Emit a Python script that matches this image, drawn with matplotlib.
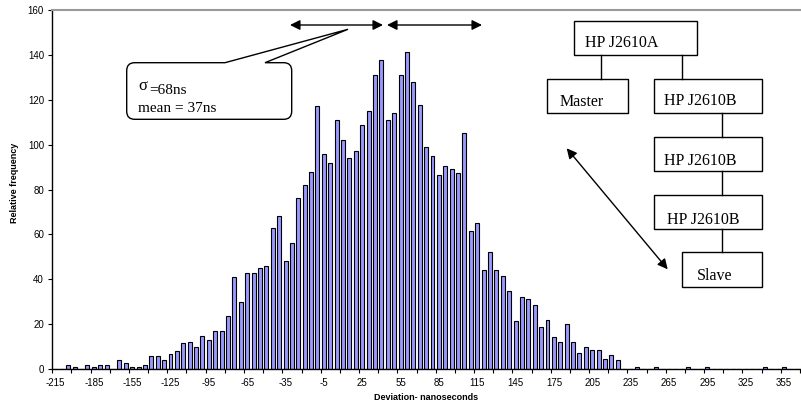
import numpy as np
import matplotlib.pyplot as plt
from matplotlib.patches import Rectangle, FancyArrowPatch, PathPatch
from matplotlib.path import Path
from matplotlib.lines import Line2D

# histogram data, bins of 5 ns
deviation = list(range(-215, 370, 5))
frequency = [0, 0, 2, 1, 0, 2, 1, 2, 2, 0,
             4, 3, 1, 1, 2, 6, 6, 4, 7, 8,
             11.5, 12, 10, 15, 13, 17, 17, 23.5, 41, 30,
             43, 43, 45, 46, 63, 68, 48, 56, 76, 82,
             88, 117, 96, 92, 111, 102, 94, 97, 108.5, 115,
             131, 137.5, 111, 114, 131, 141, 128, 117.5, 99, 95,
             86.5, 90.5, 89, 87.5, 105, 61.5, 65, 44, 52, 44,
             41.5, 35, 21.5, 32.3, 31.2, 28.6, 18.7, 22, 14.3, 12.2,
             20, 12, 7.4, 10, 8.5, 8.5, 4.5, 6.2, 4.3, 0,
             0, 1, 0, 0, 1, 0, 0, 0, 0, 1,
             0, 0, 1, 0, 0, 0, 0, 0, 0, 0,
             0, 1, 0, 0, 1, 0, 0]
tick_labels = list(range(-215, 356, 30))
yticks = list(range(0, 161, 20))

W, H = 801, 412
fig = plt.figure(figsize=(W / 100, H / 100), dpi=100)
ax = fig.add_axes([52.3 / W, 1 - 369.3 / H, 747.6 / W, 359.6 / H])

ax.bar(deviation, frequency, width=3.1, color='#9999ff', edgecolor='black', linewidth=0.8)
ax.set_xlim(-217.5, 367.5)
ax.set_ylim(0, 160)

ax.set_xticks(tick_labels)
ax.set_xticklabels([str(t) for t in tick_labels], fontsize=7, family='Liberation Sans')
ax.set_xticks(np.arange(-217.5, 368, 15), minor=True)
ax.tick_params(axis='x', which='major', length=0, pad=6)
ax.tick_params(axis='x', which='minor', length=3, width=0.8, direction='out')
ax.set_yticks(yticks)
ax.set_yticklabels([str(t) for t in yticks], fontsize=7, family='Liberation Sans')
ax.tick_params(axis='y', length=3, width=0.8, pad=3)

for s in ['left', 'bottom']:
    ax.spines[s].set_linewidth(1.0)
ax.spines['right'].set_visible(False)
ax.spines['top'].set_color('#999999')
ax.spines['top'].set_linewidth(1.5)

fig.text(426 / W, 1 - 398 / H, 'Deviation- nanoseconds', fontsize=6.5, fontweight='bold',
         family='Liberation Sans', ha='center', va='center')
fig.text(15 / W, 1 - 183 / H, 'Relative frequency', fontsize=6.5, fontweight='bold',
         family='Liberation Sans', ha='center', va='center', rotation=90)


def px(x, y):
    return (x / W, 1 - y / H)


def arrow(p1, p2):
    fig.add_artist(FancyArrowPatch(px(*p1), px(*p2), transform=fig.transFigure,
                                   arrowstyle='<|-|>,head_length=0.6,head_width=0.3',
                                   mutation_scale=10, shrinkA=0, shrinkB=0,
                                   color='black', lw=1.0))


def box(x0, y0, x1, y1):
    fig.add_artist(Rectangle(px(x0, y1), (x1 - x0) / W, (y1 - y0) / H, transform=fig.transFigure,
                             facecolor='white', edgecolor='black', lw=1.0))


def line(p1, p2):
    a, b = px(*p1), px(*p2)
    fig.add_artist(Line2D([a[0], b[0]], [a[1], b[1]], transform=fig.transFigure, color='black', lw=1.0))


def label(x, y, s, size=11.5):
    fig.text(x / W, 1 - y / H, s, fontsize=size, family='Liberation Serif', va='baseline')


# top arrows
arrow((290, 25), (383, 25))
arrow((387, 25), (482, 25))

# callout
L, R, T, B, r = 126.7, 291.7, 62.7, 119.3, 8
verts = [(L + r, T), (225, T), (348, 29.3), (265, T), (R - r, T), (R, T), (R, T + r),
         (R, B - r), (R, B), (R - r, B), (L + r, B), (L, B), (L, B - r), (L, T + r),
         (L, T), (L + r, T), (L + r, T)]
codes = [Path.MOVETO, Path.LINETO, Path.LINETO, Path.LINETO, Path.LINETO, Path.CURVE3, Path.CURVE3,
         Path.LINETO, Path.CURVE3, Path.CURVE3, Path.LINETO, Path.CURVE3, Path.CURVE3, Path.LINETO,
         Path.CURVE3, Path.CURVE3, Path.CLOSEPOLY]
verts = [px(x, y) for x, y in verts]
fig.add_artist(PathPatch(Path(verts, codes), transform=fig.transFigure,
                         facecolor='white', edgecolor='black', lw=1.0))
label(138, 90.5, '\u03c3', 12)
label(149, 94, '=68ns', 11)
label(138.3, 111.7, 'mean = 37ns', 11)

# network diagram
line((601, 55), (601, 79))
line((681.7, 55), (681.7, 79))
line((721.7, 113.3), (721.7, 136.7))
line((721.7, 171), (721.7, 195))
line((721.7, 229.3), (721.7, 252.3))
box(574.3, 20.7, 696.7, 55)
box(547.3, 79, 628.3, 113.3)
box(654, 79, 762.3, 113.3)
box(654, 136.7, 762.3, 171)
box(654, 195, 762.3, 229.3)
box(681.7, 252.3, 762.3, 286.7)
label(585, 47.3, 'HP J2610A')
label(559.3, 106, 'Master')
label(664, 105, 'HP J2610B')
label(664, 165, 'HP J2610B')
label(666.7, 224, 'HP J2610B')
label(696.7, 280, 'Slave')
arrow((566.7, 148.3), (667.7, 269.3))

fig.savefig('out.png', dpi=100)
